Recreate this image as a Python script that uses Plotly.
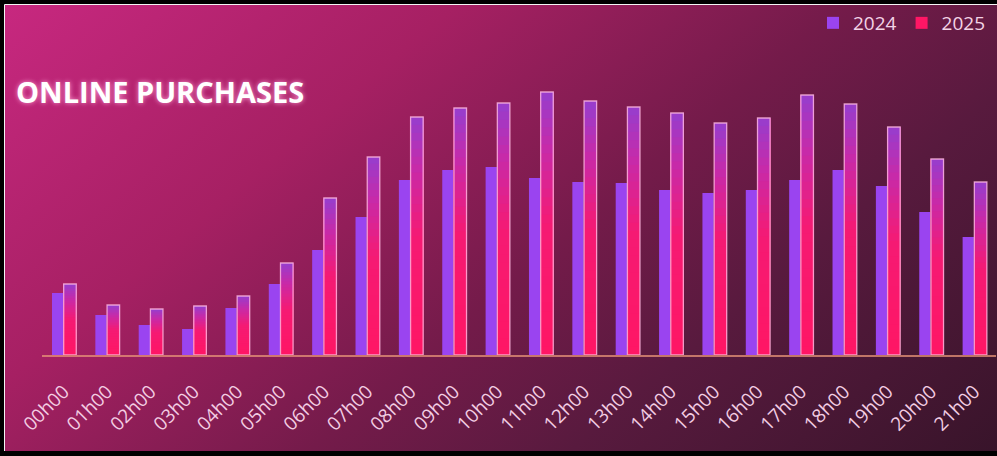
import base64
import plotly.graph_objects as go

# ---------------- data ----------------
hours = ["00h00", "01h00", "02h00", "03h00", "04h00", "05h00", "06h00", "07h00",
         "08h00", "09h00", "10h00", "11h00", "12h00", "13h00", "14h00", "15h00",
         "16h00", "17h00", "18h00", "19h00", "20h00", "21h00"]
purchases_2024 = [62, 40, 30, 26, 47, 71, 105, 138, 175, 185, 188, 177,
                  173, 172, 165, 162, 165, 175, 185, 169, 143, 118]
purchases_2025 = [71, 50, 46, 49, 59, 92, 157, 198, 238, 247, 252, 263,
                  254, 248, 242, 232, 237, 260, 251, 228, 196, 173]
series_names = ["2024", "2025"]
title_text = "ONLINE PURCHASES"

# ---------------- layout geometry ----------------
W, H = 997, 456
ML, MR, MT, MB = 42, 1, 55, 101
PW, PH = W - ML - MR, H - MT - MB

# background: black frame + diagonal magenta gradient (svg image)
svg = f'''<svg xmlns="http://www.w3.org/2000/svg" width="{W}" height="{H}" viewBox="0 0 {W} {H}">
<defs><linearGradient id="g" gradientUnits="userSpaceOnUse" x1="0" y1="0" x2="633" y2="759">
<stop offset="0" stop-color="rgb(200,40,128)"/>
<stop offset="0.3" stop-color="rgb(166,32,99)"/>
<stop offset="0.55" stop-color="rgb(116,27,74)"/>
<stop offset="0.72" stop-color="rgb(88,26,62)"/>
<stop offset="1" stop-color="rgb(56,20,42)"/>
</linearGradient></defs>
<rect x="0" y="0" width="{W}" height="{H}" fill="#000"/>
<rect x="5" y="5" width="{W-5}" height="{H-10}" fill="url(#g)"/>
<line x1="4.5" y1="4.5" x2="{W}" y2="4.5" stroke="#f4f4f4" stroke-width="1"/>
<line x1="4.5" y1="4.5" x2="4.5" y2="{H-5}" stroke="#f4f4f4" stroke-width="1"/>
</svg>'''
bg_uri = "data:image/svg+xml;base64," + base64.b64encode(svg.encode()).decode()

fig = go.Figure()

# 2024 bars: solid purple
fig.add_trace(go.Bar(
    x=hours, y=purchases_2024, name=series_names[0],
    offset=-0.27, width=0.26,
    marker=dict(color="#9a44f0", line=dict(width=0)),
    showlegend=True, legendrank=1,
))

# 2025 bars: vertical gradient pink (bottom) -> purple (top), built from stacked overlapping layers
stops = [(0.0, (255, 22, 100)), (0.5, (245, 26, 116)), (0.78, (200, 42, 168)), (1.0, (150, 62, 206))]

def interp(t):
    for (t0, c0), (t1, c1) in zip(stops[:-1], stops[1:]):
        if t <= t1:
            f = (t - t0) / (t1 - t0) if t1 > t0 else 0
            return "rgb(%d,%d,%d)" % tuple(round(a + (b - a) * f) for a, b in zip(c0, c1))
    return "rgb(%d,%d,%d)" % stops[-1][1]

N = 30
for i in range(N):
    frac = i / N
    fig.add_trace(go.Bar(
        x=hours,
        base=[v * frac for v in purchases_2025],
        y=[v * (1 - frac) for v in purchases_2025],
        offset=0.0, width=0.29,
        marker=dict(color=interp((i + 0.5) / N), line=dict(width=0)),
        name=series_names[1], legendgroup="2025",
        showlegend=(i == 0), legendrank=2,
        hoverinfo="skip" if i else None,
    ))

# light outline around 2025 bars
fig.add_trace(go.Bar(
    x=hours, y=purchases_2025, offset=0.0, width=0.29,
    marker=dict(color="rgba(0,0,0,0)", line=dict(color="rgba(255,185,225,0.8)", width=1.3)),
    showlegend=False, hoverinfo="skip",
))

fig.update_layout(
    width=W, height=H,
    margin=dict(l=ML, r=MR, t=MT, b=MB, pad=0),
    paper_bgcolor="#000000",
    plot_bgcolor="rgba(0,0,0,0)",
    barmode="overlay",
    font=dict(family="Open Sans", color="#f3d3e6"),
    images=[dict(source=bg_uri, xref="paper", yref="paper",
                 x=-ML / PW, y=1 + MT / PH, sizex=W / PW, sizey=H / PH,
                 xanchor="left", yanchor="top", sizing="stretch", layer="below")],
    legend=dict(orientation="h", x=1.0 - 5 / PW, xanchor="right", y=1 + (MT - 23) / PH, yanchor="middle",
                bgcolor="rgba(0,0,0,0)", font=dict(size=19, color="#f3d3e6"),
                itemwidth=30, traceorder="normal"),
    annotations=[dict(text=f"<b>{title_text}</b>", xref="paper", yref="paper",
                      x=(14 - ML) / PW, y=(H - MB - 92) / PH, xanchor="left", yanchor="middle",
                      showarrow=False,
                      font=dict(family="Open Sans", size=29, color="#ffffff",
                                shadow="0px 0px 5px rgba(255,160,215,0.95)"))],
    showlegend=True,
)

fig.update_xaxes(
    type="category", range=[-0.5, len(hours) - 0.5],
    showgrid=False, zeroline=False,
    showline=True, linecolor="rgba(232,150,120,0.75)", linewidth=2,
    ticks="", tickangle=-45, ticklabelstandoff=16,
    tickfont=dict(family="Open Sans", size=19, color="#f3cde3"),
)
fig.update_yaxes(range=[0, PH], visible=False, showgrid=False, zeroline=False)

fig.write_html("out.html")
